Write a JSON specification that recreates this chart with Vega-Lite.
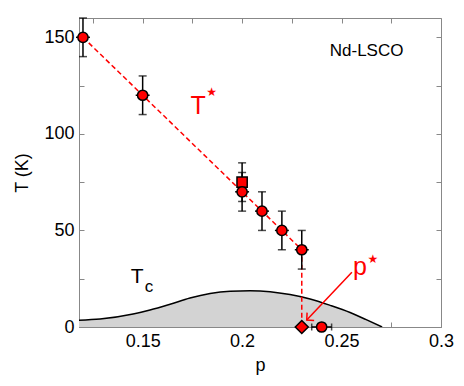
{
  "$schema": "https://vega.github.io/schema/vega-lite/v6.json",
  "autosize": "none",
  "width": 362,
  "height": 309,
  "padding": {"left": 79, "top": 18, "right": 23, "bottom": 59},
  "background": "white",
  "config": {
    "view": {"stroke": "#888", "strokeWidth": 1},
    "font": "Liberation Sans",
    "axis": {"grid": false, "domainColor": "#888", "tickColor": "#888", "labelFont": "Liberation Sans", "titleFont": "Liberation Sans", "labelFontSize": 18, "titleFontSize": 18, "titleFontWeight": "normal", "labelColor": "black", "titleColor": "black"}
  },
  "datasets": {
    "curve": [
      {"p": 0.118, "T": 3.5}, {"p": 0.1286, "T": 4.1}, {"p": 0.1452, "T": 6.7}, {"p": 0.1537, "T": 8.8},
      {"p": 0.1638, "T": 11.8}, {"p": 0.1738, "T": 15.0}, {"p": 0.1839, "T": 17.3}, {"p": 0.194, "T": 18.5},
      {"p": 0.204, "T": 18.8}, {"p": 0.2141, "T": 18.3}, {"p": 0.2241, "T": 16.8}, {"p": 0.2342, "T": 14.5},
      {"p": 0.2443, "T": 11.2}, {"p": 0.2543, "T": 7.5}, {"p": 0.2624, "T": 3.8}, {"p": 0.2704, "T": 0}
    ],
    "tline": [
      {"p": 0.12, "T": 150, "o": 1}, {"p": 0.23, "T": 40, "o": 2}, {"p": 0.23, "T": 0, "o": 3}
    ],
    "pts": [
      {"p": 0.12, "T": 150, "s": "circle", "tlo": 140, "thi": 160, "plo": 0.1165, "phi": 0.1235},
      {"p": 0.15, "T": 120, "s": "circle", "tlo": 110, "thi": 130, "plo": 0.1465, "phi": 0.1535},
      {"p": 0.2, "T": 75, "s": "square", "tlo": 65, "thi": 85, "plo": null, "phi": null},
      {"p": 0.2, "T": 70, "s": "circle", "tlo": 60, "thi": 80, "plo": 0.1965, "phi": 0.2035},
      {"p": 0.21, "T": 60, "s": "circle", "tlo": 50, "thi": 70, "plo": 0.2065, "phi": 0.2135},
      {"p": 0.22, "T": 50, "s": "circle", "tlo": 40, "thi": 60, "plo": 0.2165, "phi": 0.2235},
      {"p": 0.23, "T": 40, "s": "circle", "tlo": 30, "thi": 50, "plo": 0.2265, "phi": 0.2335},
      {"p": 0.23, "T": 0, "s": "diamond", "tlo": null, "thi": null, "plo": null, "phi": null},
      {"p": 0.24, "T": 0, "s": "circle", "tlo": null, "thi": null, "plo": 0.235, "phi": 0.245}
    ],
    "arrow": [
      {"p": 0.2552, "T": 28.3}, {"p": 0.2325, "T": 3.6}
    ],
    "labels": [
      {"p": 0.1779, "T": 110.3, "t": "T", "k": "big"},
      {"p": 0.2593, "T": 26.9, "t": "p", "k": "big"},
      {"p": 0.1472, "T": 22.8, "t": "T", "k": "tc"},
      {"p": 0.1532, "T": 18.1, "t": "c", "k": "sub"}
    ],
    "stars": [
      {"p": 0.1847, "T": 121.8}, {"p": 0.2658, "T": 35.0}
    ]
  },
  "layer": [
    {
      "data": {"name": "curve"},
      "mark": {"type": "area", "color": "#d3d3d3", "interpolate": "monotone", "clip": true},
      "encoding": {
        "x": {"field": "p", "type": "quantitative", "scale": {"domain": [0.118, 0.3], "nice": false, "zero": false},
          "axis": {"orient": "bottom", "values": [0.125, 0.15, 0.175, 0.2, 0.225, 0.25, 0.275, 0.3], "labelExpr": "round(datum.value*1000)%50==0 ? toString(round(datum.value*100)/100) : ''", "tickSize": -5, "labelPadding": 10, "title": "p", "titlePadding": 6, "labelFlush": false}},
        "y": {"field": "T", "type": "quantitative", "scale": {"domain": [0, 160], "nice": false},
          "axis": {"orient": "left", "values": [0, 25, 50, 75, 100, 125, 150], "labelExpr": "datum.value%50==0 ? datum.label : ''", "tickSize": -5, "labelPadding": 10, "title": "T (K)", "titlePadding": 12, "labelFlush": false}}
      }
    },
    {
      "data": {"name": "curve"},
      "mark": {"type": "line", "color": "black", "strokeWidth": 1.5, "interpolate": "monotone", "clip": true},
      "encoding": {
        "x": {"field": "p", "type": "quantitative", "axis": {"orient": "top", "values": [0.125, 0.15, 0.175, 0.2, 0.225, 0.25, 0.275, 0.3], "labels": false, "tickSize": -5, "title": null, "domain": false}},
        "y": {"field": "T", "type": "quantitative", "axis": {"orient": "right", "values": [0, 25, 50, 75, 100, 125, 150], "labels": false, "tickSize": -5, "title": null, "domain": false}}
      }
    },
    {
      "data": {"name": "tline"},
      "mark": {"type": "line", "color": "#ff0000", "strokeWidth": 1.5, "strokeDash": [5, 3]},
      "encoding": {
        "x": {"field": "p", "type": "quantitative", "axis": null},
        "y": {"field": "T", "type": "quantitative", "axis": null},
        "order": {"field": "o"}
      }
    },
    {
      "data": {"name": "pts"},
      "transform": [{"filter": "isValid(datum.tlo)"}],
      "mark": {"type": "rule", "color": "black", "strokeWidth": 1.5},
      "encoding": {
        "x": {"field": "p", "type": "quantitative", "axis": null},
        "y": {"field": "tlo", "type": "quantitative", "axis": null},
        "y2": {"field": "thi"}
      }
    },
    {
      "data": {"name": "pts"},
      "transform": [{"filter": "isValid(datum.tlo)"}],
      "mark": {"type": "tick", "orient": "horizontal", "color": "black", "size": 8, "thickness": 1.5},
      "encoding": {
        "x": {"field": "p", "type": "quantitative", "axis": null},
        "y": {"field": "tlo", "type": "quantitative", "axis": null}
      }
    },
    {
      "data": {"name": "pts"},
      "transform": [{"filter": "isValid(datum.thi)"}],
      "mark": {"type": "tick", "orient": "horizontal", "color": "black", "size": 8, "thickness": 1.5},
      "encoding": {
        "x": {"field": "p", "type": "quantitative", "axis": null},
        "y": {"field": "thi", "type": "quantitative", "axis": null}
      }
    },
    {
      "data": {"name": "pts"},
      "transform": [{"filter": "isValid(datum.plo)"}],
      "mark": {"type": "rule", "color": "black", "strokeWidth": 1.5},
      "encoding": {
        "x": {"field": "plo", "type": "quantitative", "axis": null},
        "x2": {"field": "phi"},
        "y": {"field": "T", "type": "quantitative", "axis": null}
      }
    },
    {
      "data": {"name": "pts"},
      "transform": [{"filter": "datum.T == 0 && isValid(datum.plo)"}, {"fold": ["plo", "phi"], "as": ["side", "pe"]}],
      "mark": {"type": "tick", "orient": "vertical", "color": "black", "size": 7, "thickness": 1.5},
      "encoding": {
        "x": {"field": "pe", "type": "quantitative", "axis": null},
        "y": {"field": "T", "type": "quantitative", "axis": null}
      }
    },
    {
      "data": {"name": "pts"},
      "mark": {"type": "point", "filled": true, "fill": "#ff0000", "stroke": "black", "strokeWidth": 1.5, "opacity": 1, "clip": false},
      "encoding": {
        "x": {"field": "p", "type": "quantitative", "axis": null},
        "y": {"field": "T", "type": "quantitative", "axis": null},
        "shape": {"field": "s", "type": "nominal", "scale": null, "legend": null},
        "size": {"condition": {"test": "datum.s == 'diamond'", "value": 170}, "value": 105}
      }
    },
    {
      "data": {"name": "arrow"},
      "mark": {"type": "line", "color": "#ff0000", "strokeWidth": 1.5},
      "encoding": {
        "x": {"field": "p", "type": "quantitative", "axis": null},
        "y": {"field": "T", "type": "quantitative", "axis": null}
      }
    },
    {
      "data": {"name": "arrow"},
      "transform": [{"filter": "datum.T < 10"}],
      "mark": {"type": "point", "shape": "M-1,-1L0,0L-1,1", "filled": false, "stroke": "#ff0000", "strokeWidth": 1.5, "angle": 137.6, "size": 110, "opacity": 1},
      "encoding": {
        "x": {"field": "p", "type": "quantitative", "axis": null},
        "y": {"field": "T", "type": "quantitative", "axis": null}
      }
    },
    {
      "data": {"name": "labels"},
      "mark": {"type": "text", "align": "center", "baseline": "alphabetic", "font": "Liberation Sans"},
      "encoding": {
        "x": {"field": "p", "type": "quantitative", "axis": null},
        "y": {"field": "T", "type": "quantitative", "axis": null},
        "text": {"field": "t"},
        "color": {"condition": {"test": "datum.k == 'big'", "value": "#ff0000"}, "value": "black"},
        "size": {"condition": [{"test": "datum.k == 'big'", "value": 25}, {"test": "datum.k == 'tc'", "value": 21}], "value": 17}
      }
    },
    {
      "data": {"name": "stars"},
      "mark": {"type": "text", "align": "center", "baseline": "middle", "font": "DejaVu Sans", "fontSize": 12, "color": "#ff0000"},
      "encoding": {
        "x": {"field": "p", "type": "quantitative", "axis": null},
        "y": {"field": "T", "type": "quantitative", "axis": null},
        "text": {"value": "★"}
      }
    },
    {
      "data": {"values": [{"p": 0.2626, "T": 143, "t": "Nd-LSCO"}]},
      "mark": {"type": "text", "align": "center", "baseline": "middle", "font": "Liberation Sans", "fontSize": 17, "color": "black"},
      "encoding": {
        "x": {"field": "p", "type": "quantitative", "axis": null},
        "y": {"field": "T", "type": "quantitative", "axis": null},
        "text": {"field": "t"}
      }
    }
  ],
  "resolve": {"axis": {"x": "independent", "y": "independent"}}
}
